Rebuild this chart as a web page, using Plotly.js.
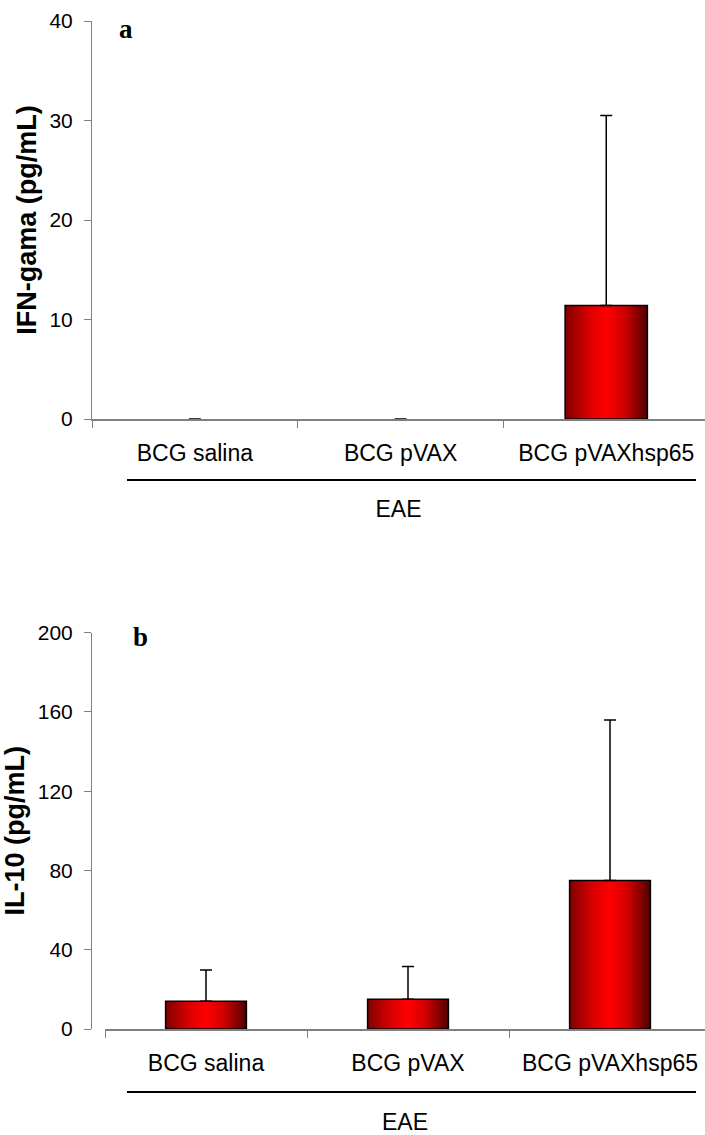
<!DOCTYPE html>
<html>
<head>
<meta charset="utf-8">
<script src="https://cdn.plot.ly/plotly-3.0.1.min.js"></script>
<style>
  html, body { margin: 0; padding: 0; background: #ffffff; }
  #chart { width: 705px; height: 1135px; }
</style>
</head>
<body>
<div id="chart"></div>
<script>
// ---- data ----
const categories = ['BCG salina', 'BCG pVAX', 'BCG pVAXhsp65'];
const groupLabel = 'EAE';

const ifnMean = [0, 0, 11.4];
const ifnErr  = [0, 0, 19.1];

const il10Mean = [14.0, 15.0, 75.0];
const il10Err  = [15.8, 16.5, 81.0];

const ifnTicks  = [0, 10, 20, 30, 40];
const il10Ticks = [0, 40, 80, 120, 160, 200];

// ---- helpers ----
const W = 705, H = 1135;
const px = v => v / W;
const py = v => (H - v) / H;

const sans = 'Liberation Sans, Arial, sans-serif';
const serif = 'Liberation Serif, Times New Roman, serif';

function barTrace(y, err, xa, ya) {
  return {
    type: 'bar',
    x: categories,
    y: y,
    xaxis: xa,
    yaxis: ya,
    width: 0.4,
    marker: { color: '#e00000', line: { color: '#000000', width: y.map(v => (v > 0 ? 1.5 : 0)) } },
    error_y: {
      type: 'data',
      symmetric: false,
      array: err,
      arrayminus: err.map(() => 0),
      color: '#000000',
      thickness: 1.5,
      width: 6
    },
    hoverinfo: 'x+y'
  };
}

function yAxis(domain, range, ticks, title, standoff) {
  return {
    domain: domain,
    range: range,
    tickmode: 'array',
    tickvals: ticks,
    ticktext: ticks.map(String),
    ticks: 'outside',
    ticklen: 7,
    tickwidth: 1,
    tickcolor: '#808080',
    ticklabelstandoff: 7,
    showline: true,
    linecolor: '#808080',
    linewidth: 1,
    showgrid: false,
    zeroline: false,
    tickfont: { family: sans, size: 21, color: '#000000' },
    title: { text: '<b>' + title + '</b>', font: { family: sans, size: 27, color: '#000000' }, standoff: standoff },
    fixedrange: true
  };
}

function xAxis(domain, range, anchor, standoff) {
  return {
    domain: domain,
    anchor: anchor,
    type: 'category',
    range: range,
    tickson: 'boundaries',
    ticks: 'outside',
    ticklen: 7,
    tickwidth: 1,
    tickcolor: '#808080',
    ticklabelstandoff: 12,
    showline: true,
    linecolor: '#808080',
    linewidth: 2,
    showgrid: false,
    zeroline: false,
    tickfont: { family: sans, size: 23, color: '#000000' },
    title: { text: groupLabel, font: { family: sans, size: 23, color: '#000000' }, standoff: standoff },
    fixedrange: true
  };
}

const data = [
  barTrace(ifnMean, ifnErr, 'x', 'y'),
  barTrace(il10Mean, il10Err, 'x2', 'y2')
];

const layout = {
  width: W,
  height: H,
  margin: { l: 0, r: 0, t: 0, b: 0 },
  paper_bgcolor: '#ffffff',
  plot_bgcolor: '#ffffff',
  showlegend: false,
  xaxis: xAxis([px(92), 1], [-0.5, -0.5 + 613 / 205.7], 'y', 36),
  yaxis: yAxis([py(419), py(21)], [0, 40], ifnTicks, 'IFN-gama (pg/mL)', 4),
  xaxis2: xAxis([px(105), 1], [-0.5, -0.5 + 600 / 202], 'y2', 42),
  yaxis2: yAxis([py(1029), py(632.7)], [0, 200], il10Ticks, 'IL-10 (pg/mL)', 8),
  shapes: [
    { type: 'line', xref: 'paper', yref: 'paper', x0: px(127), x1: px(696), y0: py(480), y1: py(480), line: { color: '#000000', width: 2 } },
    { type: 'line', xref: 'paper', yref: 'paper', x0: px(127), x1: px(696), y0: py(1092), y1: py(1092), line: { color: '#000000', width: 2 } }
  ],
  annotations: [
    { xref: 'paper', yref: 'paper', x: px(126), y: py(29), text: '<b>a</b>', showarrow: false, xanchor: 'center', yanchor: 'middle', font: { family: serif, size: 27, color: '#000000' } },
    { xref: 'paper', yref: 'paper', x: px(140), y: py(637), text: '<b>b</b>', showarrow: false, xanchor: 'center', yanchor: 'middle', font: { family: serif, size: 27, color: '#000000' } }
  ]
};

const gd = document.getElementById('chart');
Plotly.newPlot(gd, data, layout, { displayModeBar: false, staticPlot: true }).then(() => {
  const NS = 'http://www.w3.org/2000/svg';
  const svg = gd.querySelector('svg.main-svg');
  let defs = svg.querySelector('defs');
  if (!defs) { defs = document.createElementNS(NS, 'defs'); svg.insertBefore(defs, svg.firstChild); }
  const grad = document.createElementNS(NS, 'linearGradient');
  grad.setAttribute('id', 'barGrad');
  grad.setAttribute('x1', '0'); grad.setAttribute('y1', '0');
  grad.setAttribute('x2', '1'); grad.setAttribute('y2', '0');
  [['0', '#800000'], ['0.28', '#d80000'], ['0.5', '#ff0000'], ['0.72', '#d00000'], ['1', '#500000']].forEach(([o, c]) => {
    const s = document.createElementNS(NS, 'stop');
    s.setAttribute('offset', o);
    s.setAttribute('stop-color', c);
    grad.appendChild(s);
  });
  defs.appendChild(grad);
  gd.querySelectorAll('.barlayer .point path').forEach(p => { p.style.fill = 'url(#barGrad)'; });
});
</script>
</body>
</html>
